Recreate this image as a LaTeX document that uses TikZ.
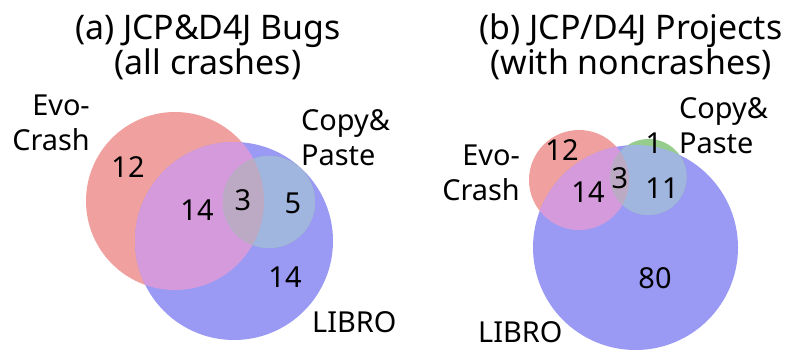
\documentclass[tikz,border=0pt]{standalone}
\usepackage{fontspec}
\setmainfont{Noto Sans}
\definecolor{cRed}{RGB}{240,160,158}
\definecolor{cBlue}{RGB}{154,154,245}
\definecolor{cPurple}{RGB}{213,154,219}
\definecolor{cGreen}{RGB}{150,205,140}
\definecolor{cSky}{RGB}{160,182,222}
\definecolor{cMix}{RGB}{188,170,196}
\tikzset{
  ttl/.style={font=\fontsize{34}{35}\selectfont, align=center, inner sep=0pt},
  lbl/.style={font=\fontsize{29}{34.5}\selectfont, inner sep=0pt},
  num/.style={font=\fontsize{29}{30}\selectfont, inner sep=0pt},
}
% three-set Venn diagram: centre/radius of set 1 (red), set 2 (green), set 3 (blue)
\newcommand{\vennregions}[6]{%
  \fill[cRed]  #1 circle[radius=#2];
  \fill[cBlue] #5 circle[radius=#6];
  \begin{scope}\clip #1 circle[radius=#2]; \fill[cPurple] #5 circle[radius=#6];\end{scope}
  \fill[cGreen] #3 circle[radius=#4];
  \begin{scope}\clip #3 circle[radius=#4]; \fill[cSky] #5 circle[radius=#6];\end{scope}
  \begin{scope}\clip #3 circle[radius=#4]; \clip #1 circle[radius=#2];
    \fill[cMix] #5 circle[radius=#6];\end{scope}
}
\begin{document}
\begin{tikzpicture}[x=1bp,y=-1bp]
\useasboundingbox (0,0) rectangle (790,349);

% ---- (a) bugs ----
\vennregions{(175,201)}{89bp}{(269,202)}{46bp}{(234,241)}{99bp}
\node[ttl, anchor=base] (titleA) at (208,74) {(a) JCP\&D4J Bugs\\(all crashes)};
\node[lbl, align=right, anchor=base east] (evoA) at (90,150) {Evo-\\Crash};
\node[lbl, align=left, anchor=base west] (cpA) at (301,165) {Copy\&\\Paste};
\node[lbl, anchor=base west] (libA) at (312,332) {LIBRO};
\node[num] (a100) at (128,167) {12};
\node[num] (a101) at (197,210) {14};
\node[num] (a111) at (243,200) {3};
\node[num] (a011) at (293,203) {5};
\node[num] (a001) at (285,277) {14};

% ---- (b) projects ----
\vennregions{(579,180)}{50bp}{(648.5,177)}{38bp}{(635.5,247.5)}{102.5bp}
\node[ttl, anchor=base] (titleB) at (631,74) {(b) JCP/D4J Projects\\(with noncrashes)};
\node[lbl, align=right, anchor=base east] (evoB) at (520,200) {Evo-\\Crash};
\node[lbl, align=left, anchor=base west] (cpB) at (679,153) {Copy\&\\Paste};
\node[lbl, anchor=base west] (libB) at (478,342) {LIBRO};
\node[num] (b100) at (562,150) {12};
\node[num] (b010) at (654,143) {1};
\node[num] (b111) at (620,178) {3};
\node[num] (b101) at (588,192) {14};
\node[num] (b011) at (662,188) {11};
\node[num] (b001) at (655,278) {80};
\end{tikzpicture}
\end{document}
